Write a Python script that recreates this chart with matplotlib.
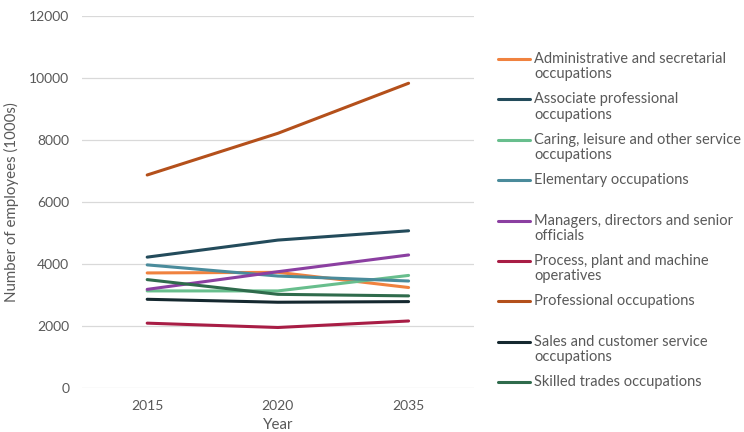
import matplotlib
matplotlib.use('Agg')
import matplotlib.pyplot as plt
from matplotlib.legend_handler import HandlerLine2D

matplotlib.rcParams['font.family'] = ['Lato', 'DejaVu Sans']

years = ['2015', '2020', '2035']

admin = [3710, 3730, 3240]
associate = [4220, 4770, 5070]
caring = [3130, 3130, 3630]
elementary = [3970, 3610, 3450]
managers = [3180, 3750, 4290]
process = [2090, 1950, 2160]
professional = [6870, 8215, 9830]
sales = [2860, 2765, 2785]
skilled = [3495, 3020, 2970]

# every label takes two lines so the entries keep an even pitch
labels = ['Administrative and secretarial\noccupations',
          'Associate professional\noccupations',
          'Caring, leisure and other service\noccupations',
          'Elementary occupations\n ',
          'Managers, directors and senior\nofficials',
          'Process, plant and machine\noperatives',
          'Professional occupations\n ',
          'Sales and customer service\noccupations',
          'Skilled trades occupations\n ']
series = [admin, associate, caring, elementary, managers, process,
          professional, sales, skilled]
colours = ['#F0823F', '#234B5B', '#68BE8D', '#4A8B9B', '#8B3FA1',
           '#A81D45', '#B4501B', '#15282F', '#2F6B4C']

grey = '#595959'
leg_fs = 10.5
line_sp = 1.12


class FirstLineHandler(HandlerLine2D):
    # lift the legend line up to the first line of a two line label
    def create_artists(self, legend, orig_handle, xdescent, ydescent,
                       width, height, fontsize, trans):
        shift = 0.5 * fontsize * line_sp
        return super().create_artists(legend, orig_handle, xdescent,
                                      ydescent - 2 * shift, width, height,
                                      fontsize, trans)


fig = plt.figure(figsize=(7.44, 4.32), dpi=100)
ax = fig.add_axes([0.110, 0.102, 0.527, 0.861])

lines = []
for vals, lab, col in zip(series, labels, colours):
    ln, = ax.plot(years, vals, color=col, linewidth=2.2, label=lab,
                  solid_capstyle='round')
    lines.append(ln)

ax.set_xlim(-0.5, 2.5)
ax.set_ylim(0, 12000)
ax.set_yticks(range(0, 12001, 2000))
ax.grid(axis='y', color='#D9D9D9', linewidth=0.9)
ax.set_axisbelow(True)
for s in ax.spines.values():
    s.set_visible(False)
ax.tick_params(length=0, colors=grey, labelsize=10)
ax.tick_params(axis='y', pad=9)
ax.tick_params(axis='x', pad=9)
ax.set_xlabel('Year', color=grey, fontsize=10.8, labelpad=4)
ax.set_ylabel('Number of employees (1000s)', color=grey, fontsize=10.8,
              labelpad=7)

leg = fig.legend(handles=lines, loc='upper left',
                 bbox_to_anchor=(0.662, 0.893),
                 frameon=False, fontsize=leg_fs, labelcolor=grey,
                 handlelength=2.2, handletextpad=0.25, labelspacing=0.76,
                 borderaxespad=0,
                 handler_map={ln: FirstLineHandler() for ln in lines})
for t in leg.get_texts():
    t.set_linespacing(line_sp)

fig.savefig('out.png', dpi=100)
